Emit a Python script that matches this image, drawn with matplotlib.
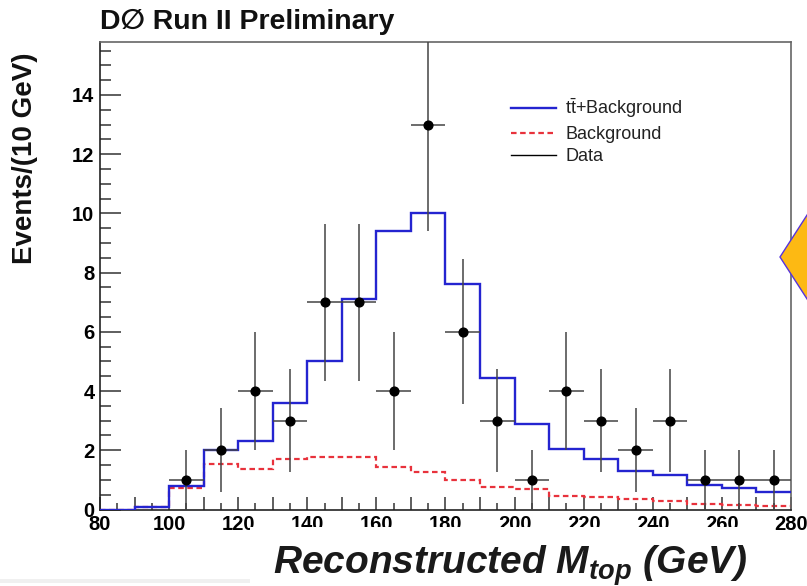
"""Reconstructed top mass distribution, D0 Run II style."""
import numpy as np
import matplotlib
matplotlib.use("Agg")
import matplotlib.pyplot as plt
from matplotlib.lines import Line2D
from matplotlib.patches import Polygon, Rectangle
from matplotlib.ticker import MultipleLocator, FuncFormatter

plt.rcParams["font.family"] = ["Liberation Sans", "DejaVu Sans"]
plt.rcParams["mathtext.fontset"] = "custom"
plt.rcParams["mathtext.rm"] = "Liberation Sans"
plt.rcParams["mathtext.it"] = "Liberation Sans:italic"
plt.rcParams["mathtext.bf"] = "Liberation Sans:bold"
plt.rcParams["mathtext.bfit"] = "Liberation Sans:italic:bold"

# bin edges in GeV (10 GeV bins)
bin_edges = np.arange(80, 281, 10)

# expected t tbar + background per bin
signal_plus_bkg = [0.0, 0.1, 0.8, 2.0, 2.3, 3.6, 5.0, 7.1, 9.4, 10.0,
                   7.6, 4.45, 2.9, 2.05, 1.72, 1.3, 1.15, 0.84, 0.74, 0.58]
# expected background per bin
background = [0.0, 0.1, 0.74, 1.53, 1.36, 1.72, 1.78, 1.78, 1.45, 1.25,
              1.0, 0.76, 0.7, 0.47, 0.41, 0.34, 0.28, 0.2, 0.16, 0.11]

# observed events (bin centres)
data_mass = [105, 115, 125, 135, 145, 155, 165, 175, 185, 195,
             205, 215, 225, 235, 245, 255, 265, 275]
data_counts = [1, 2, 4, 3, 7, 7, 4, 13, 6, 3,
               1, 4, 3, 2, 3, 1, 1, 1]

W, H = 807, 586
fig = plt.figure(figsize=(W / 100, H / 100), dpi=100)
ax = fig.add_axes([100 / W, 1 - 509.5 / H, 691 / W, 467.8 / H])

ax.stairs(background, bin_edges, baseline=None, color="#e8323c",
          linewidth=1.6, linestyle=(0, (2.5, 1.6)), zorder=2)
ax.stairs(signal_plus_bkg, bin_edges, baseline=None, color="#2424d0",
          linewidth=1.7, zorder=3)

counts = np.array(data_counts, dtype=float)
ax.errorbar(data_mass, counts, yerr=np.sqrt(counts), xerr=5, fmt="o",
            color="black", markersize=6.3, ecolor="#444444", elinewidth=1.1,
            capsize=0, zorder=4)

ax.set_xlim(80, 280)
ax.set_ylim(0, 15.8)

ax.xaxis.set_major_locator(MultipleLocator(10))
ax.xaxis.set_minor_locator(MultipleLocator(5))
ax.xaxis.set_major_formatter(
    FuncFormatter(lambda v, p: f"{v:.0f}" if round(v) % 20 == 0 else ""))
ax.yaxis.set_major_locator(MultipleLocator(2))
ax.yaxis.set_minor_locator(MultipleLocator(0.5))

ax.tick_params(axis="x", which="major", direction="in", length=9.5, width=1.1,
               color="#333333", labelsize=14.5, pad=4, top=False)
ax.tick_params(axis="x", which="minor", direction="in", length=5, width=1.1,
               color="#333333", top=False)
ax.tick_params(axis="y", which="major", direction="in", length=15, width=1.1,
               color="#333333", labelsize=14.5, pad=4, right=False)
ax.tick_params(axis="y", which="minor", direction="in", length=8, width=1.1,
               color="#333333", right=False)
for lab in ax.get_xticklabels() + ax.get_yticklabels():
    lab.set_fontweight("bold")

for side in ["left", "bottom"]:
    ax.spines[side].set_color("#222222")
    ax.spines[side].set_linewidth(1.2)
for side in ["top", "right"]:
    ax.spines[side].set_color("#666666")
    ax.spines[side].set_linewidth(1.2)

handles = [
    Line2D([], [], color="#2424d0", linewidth=1.7),
    Line2D([], [], color="#e8323c", linewidth=1.6, linestyle=(0, (2.5, 1.6))),
    Line2D([], [], color="black", linewidth=1.0),
]
labels = [r"$\mathrm{t\bar{t}}$+Background", "Background", "Data"]
ax.legend(handles, labels, loc="upper left",
          bbox_to_anchor=(511 / W, 1 - 97 / H), bbox_transform=fig.transFigure,
          frameon=False, fontsize=13, handlelength=2.5, handletextpad=0.5,
          labelspacing=0.3, borderpad=0, borderaxespad=0)
for t in ax.get_legend().get_texts():
    t.set_color("#222222")

fig.text(100 / W, 1 - 22 / H, "D\u2205 Run II Preliminary", fontsize=20.5,
         fontweight="bold", va="center", ha="left", color="#111111")
fig.text(25 / W, 1 - 158 / H, "Events/(10 GeV)", fontsize=20,
         fontweight="bold", rotation=90, va="center", ha="center",
         color="#111111")

# slide overlay: white box that hides the lower part of the tick labels
fig.patches.append(Rectangle((250 / W, 0), (770 - 250) / W, 1 - 527 / H,
                             transform=fig.transFigure, facecolor="white",
                             edgecolor="none", zorder=5))
fig.patches.append(Rectangle((0, 1 - 583 / H), 250 / W, 4 / H,
                             transform=fig.transFigure, facecolor="#f0f0f0",
                             edgecolor="none", zorder=5))
fig.text(273 / W, 1 - 574 / H, r"Reconstructed M$_{\mathbfit{top}}$ (GeV)",
         fontsize=28, fontweight="bold", fontstyle="italic", ha="left",
         va="baseline", color="#1a1a1a", zorder=6)

# slide overlay: orange diamond at the right edge
fig.patches.append(Polygon([(780 / W, 1 - 257 / H), (809 / W, 1 - 212 / H),
                            (838 / W, 1 - 257 / H), (809 / W, 1 - 302 / H)],
                           closed=True, transform=fig.transFigure,
                           facecolor="#fdb913", edgecolor="#5533dd",
                           linewidth=1.0, zorder=5))

fig.savefig("out.png", dpi=100)
